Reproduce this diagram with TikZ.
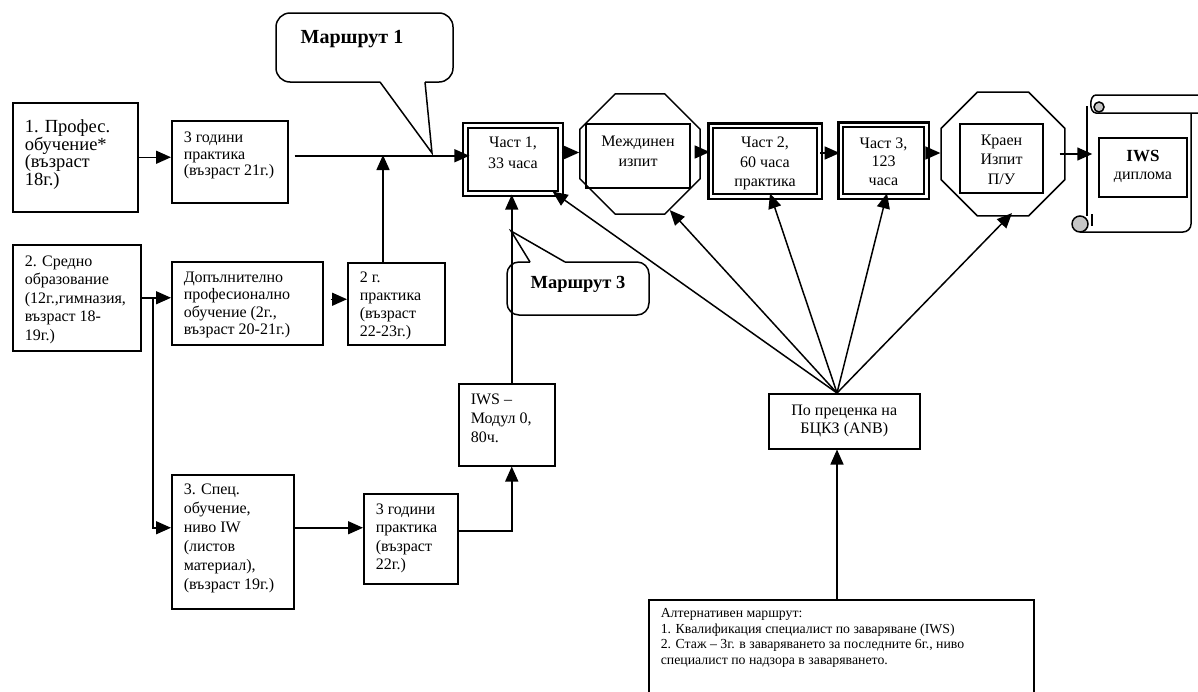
\documentclass[tikz,border=0pt]{standalone}
\usepackage{fontspec}
\setmainfont{Liberation Serif}
\usetikzlibrary{arrows.meta,shapes.geometric}

% text block of a box: width, height, top gap, text
\newcommand{\cell}[4]{\parbox[c][#2pt][t]{\dimexpr#1pt-24pt\relax}{\vspace*{#3pt}\raggedright#4}}

\tikzset{
  box/.style={draw, line width=1.5pt, anchor=north west, inner xsep=12pt, inner ysep=0pt,
    font=\fontsize{16}{18}\selectfont},
  part/.style={draw, double, double distance=2.5pt, line width=2.2pt, inner xsep=12pt, inner ysep=0pt,
    font=\fontsize{16}{19.5}\selectfont},
  inbox/.style={draw, line width=1.5pt, inner xsep=12pt, inner ysep=0pt,
    font=\fontsize{16}{19.5}\selectfont},
  oct/.style={draw, regular polygon, regular polygon sides=8, inner sep=0pt, line width=1.5pt},
  arr/.style={-{Triangle[length=15pt,width=13pt]}, line width=1.5pt},
  route/.style={font=\bfseries\fontsize{20}{22}\selectfont}
}

\begin{document}
\begin{tikzpicture}[x=1pt, y=-1pt]
  \useasboundingbox (0,0) rectangle (1198,691);

  % Route 1: vocational training
  \node[box, font=\fontsize{18.5}{17.5}\selectfont] (prof) at (12,102)
    {\cell{125}{109}{17}{1. Профес.\\ обучение*\\ (възраст\\ 18г.)}};
  \node[box, font=\fontsize{16}{16.7}\selectfont] (prakt21) at (171,120)
    {\cell{116}{82}{11}{3 години\\ практика\\ (възраст 21г.)}};

  % Route 2: secondary school
  \node[box, font=\fontsize{16}{18.5}\selectfont] (sredno) at (12,244)
    {\cell{128}{106}{11}{2. Средно\\ образование\\ (12г.,гимназия,\\ възраст 18-\\ 19г.)}};
  \node[box, font=\fontsize{16}{17.5}\selectfont] (dopal) at (171,261)
    {\cell{151}{83}{10}{Допълнително\\ професионално\\ обучение (2г.,\\ възраст 20-21г.)}};
  \node[box] (prakt2) at (347,262)
    {\cell{97}{82}{9}{2 г.\\ практика\\ (възраст\\ 22-23г.)}};

  % Route 3: special training
  \node[box, font=\fontsize{16}{19}\selectfont] (spec) at (171,474)
    {\cell{122}{134}{9}{3. Спец.\\ обучение,\\ ниво IW\\ (листов\\ материал),\\ (възраст 19г.)}};
  \node[box, font=\fontsize{16}{18.5}\selectfont] (prakt3) at (363,493)
    {\cell{94}{90}{10}{3 години\\ практика\\ (възраст\\ 22г.)}};
  \node[box, font=\fontsize{16}{19}\selectfont] (modul) at (458,383)
    {\cell{96}{82}{10}{IWS –\\ Модул 0,\\ 80ч.}};

  % course parts and exams
  \node[part, font=\fontsize{16}{21.5}\selectfont] (part1) at (513,159.5)
    {\cell{95}{68}{11}{\centering Част 1,\\ 33 часа}};
  \node[oct, minimum size=130pt] (mezh) at (640,154) {};
  \node[inbox, font=\fontsize{16}{20}\selectfont] (mezhin) at (638,156)
    {\cell{104}{64}{12}{\centering Междинен\\ изпит}};
  \node[part] (part2) at (765,161) {\cell{108.5}{70.5}{11.5}{\centering Част 2,\\ 60 часа\\ практика}};
  \node[part, font=\fontsize{16}{18.5}\selectfont] (part3) at (883.5,160.5)
    {\cell{85.5}{71.5}{13}{\centering Част 3,\\ 123\\ часа}};
  \node[oct, minimum size=134pt] (krayen) at (1003,154) {};
  \node[inbox] (krin) at (1001.5,158.5) {\cell{83}{69}{11}{\centering Краен\\ Изпит\\ П/У}};

  % diploma scroll
  \draw[line width=1.5pt] (1198,95) -- (1096,95) to[out=180,in=180] (1096,113) -- (1198,113);
  \draw[line width=1.5pt, fill=gray!45] (1099,107) circle (5pt);
  \draw[line width=1.5pt] (1087,106) -- (1087,216);
  \draw[line width=1.5pt, rounded corners=8pt] (1080,232) -- (1191,232) -- (1191,113);
  \draw[line width=1.5pt, fill=gray!45] (1080,224) circle (8pt);
  \draw[line width=1.5pt] (1092,214) -- (1092,226);
  \node[inbox, font=\fontsize{16}{18.5}\selectfont] (dipl) at (1143,167.5)
    {\cell{88}{59}{12}{\centering {\fontsize{17}{18}\selectfont\bfseries IWS}\\ диплома}};

  % assessment by the body
  \node[box] (anb) at (768,393) {\cell{151}{55}{11}{\centering По преценка на\\ БЦКЗ (ANB)}};
  \node[box, font=\fontsize{13.8}{15.5}\selectfont] (alt) at (648,599)
    {\cell{385}{100}{9}{Алтернативен маршрут:\\ 1. Квалификация специалист по заваряване (IWS)\\
      2. Стаж – 3г. в заваряването за последните 6г., ниво\\ специалист по надзора в заваряването.}};

  % callouts
  \draw[line width=1.5pt, rounded corners=14pt] (425,82) -- (453,82) -- (453,13) -- (276,13) -- (276,82) -- (380,82);
  \draw[line width=1.5pt] (380,82) -- (432,153) -- (425,82);
  \node[route] (route1) at (352,39) {Маршрут 1};
  \draw[line width=1.5pt, rounded corners=12pt] (565,262) -- (649,262) -- (649,315) -- (507,315) -- (507,262) -- (530,262);
  \draw[line width=1.5pt] (530,262) -- (511,231) -- (565,262);
  \node[route, font=\bfseries\fontsize{18.5}{20}\selectfont] (route3) at (578,284) {Маршрут 3};

  \coordinate (j1) at (383,155);
  \coordinate (br) at (153,297);
  \coordinate (fan) at (837,393);

  % arrows
  \draw[arr] (prof.east) -- (prof.east -| prakt21.west);
  \draw[arr, shorten <=6pt, shorten >=-5pt] ([yshift=6pt]prakt21.east) -- ([yshift=6pt]prakt21.east -| part1.west);
  \draw[arr] (prakt2.north -| j1) -- (j1);
  \draw[arr] (sredno.east) -- (sredno.east -| dopal.west);
  \draw[arr] (br) |- ([yshift=14pt]spec.west);
  \draw[arr, shorten <=7pt] ([yshift=4pt]dopal.east) -- ([yshift=4pt]dopal.east -| prakt2.west);
  \draw[arr] ([yshift=14pt]spec.east) -- ([yshift=14pt]spec.east -| prakt3.west);
  \draw[arr] ([yshift=8pt]prakt3.east) -| ([xshift=5pt]modul.south);
  \draw[arr] ([xshift=5pt]modul.north) -- ([xshift=5pt]modul.north |- part1.south);
  \draw[arr] ([yshift=7pt]part1.east) -- ([yshift=7pt]part1.east -| mezh.west);
  \draw[arr] ([yshift=9pt]part2.west -| mezh.east) -- ([yshift=9pt]part2.west);
  \draw[arr] ([yshift=8pt]part2.east) -- ([yshift=8pt]part2.east -| part3.west);
  \draw[arr] ([yshift=7.5pt]part3.east) -- ([yshift=7.5pt]part3.east -| krayen.west);
  \draw[arr, shorten <=-6pt, shorten >=6pt] (krayen.east) -- (krayen.east -| dipl.west);
  \draw[arr] (alt.north -| fan) -- (anb.south -| fan);
  \draw[arr] (fan) -- ([shift={(-9pt,3pt)}]part1.south east);
  \draw[arr] (fan) -- (mezh.-62);
  \draw[arr] (fan) -- ([shift={(5pt,4pt)}]part2.south);
  \draw[arr] (fan) -- ([shift={(3.5pt,4pt)}]part3.south);
  \draw[arr, shorten >=-5pt] (fan) -- (krayen.-85);
\end{tikzpicture}
\end{document}
